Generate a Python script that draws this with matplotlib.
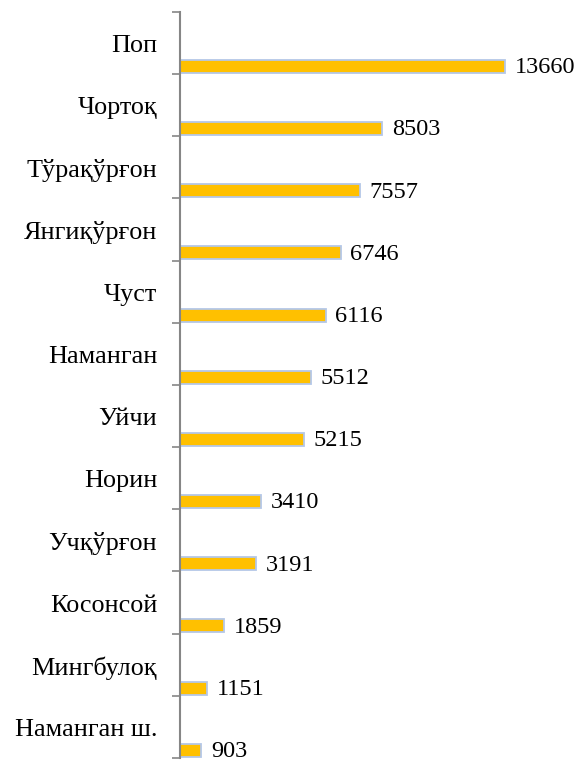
import matplotlib
matplotlib.use("Agg")
import matplotlib.pyplot as plt
import numpy as np

plt.rcParams['font.family'] = ['Liberation Serif', 'DejaVu Serif']

districts = ["Поп", "Чортоқ", "Тўрақўрғон", "Янгиқўрғон", "Чуст", "Наманган",
             "Уйчи", "Норин", "Учқўрғон", "Косонсой", "Мингбулоқ", "Наманган ш."]
values = [13660, 8503, 7557, 6746, 6116, 5512, 5215, 3410, 3191, 1859, 1151, 903]

fig = plt.figure(figsize=(5.78, 7.63), dpi=100)
ax = fig.add_axes([0.311, 0.0066, 0.66, 0.9777])

n = len(districts)
pos = np.arange(n)
bar_h = 0.21
# bar sits at the bottom of each category band
ax.barh(pos + 1 - 0.02 - bar_h / 2, values, height=bar_h, color='#FFC000',
        edgecolor='#B4C7E7', linewidth=1.3)

ax.set_xlim(0, 16000)
ax.set_ylim(n, 0)

for i, (name, v) in enumerate(zip(districts, values)):
    ax.text(-950, i + 0.55, name, ha='right', va='center', fontsize=18.8)
    ax.annotate(str(v), (v, i + 1 - 0.02 - bar_h / 2), xytext=(7, -1),
                textcoords='offset points', ha='left', va='center', fontsize=17.5)

ax.set_yticks(np.arange(n + 1))
ax.set_yticklabels([])
ax.set_xticks([])
ax.tick_params(axis='y', direction='out', length=6, width=1.2, color='#868686')
for s in ['top', 'right', 'bottom']:
    ax.spines[s].set_visible(False)
ax.spines['left'].set_color('#868686')
ax.spines['left'].set_linewidth(1.5)

fig.savefig("out.png", dpi=100)
